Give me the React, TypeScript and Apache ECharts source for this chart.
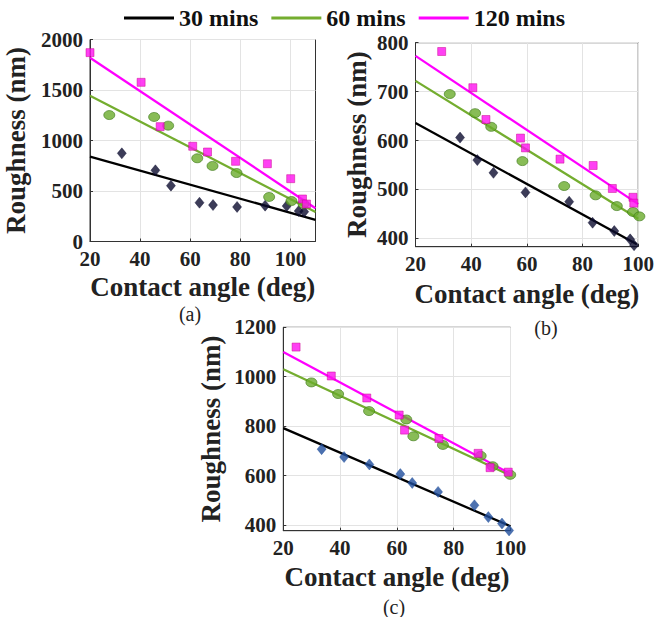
import React, { useEffect, useRef } from "react";
import * as echarts from "echarts";

// ---------- Panel (a) ----------
const a30: number[][] = [[32.7, 873], [46.1, 705], [52.3, 553], [63.7, 384], [69.1, 361], [78.7, 342], [89.9, 355], [98.5, 351], [103.3, 302], [105.5, 295]];
const a60: number[][] = [[27.7, 1252], [45.6, 1233], [51.2, 1147], [62.8, 824], [68.9, 748], [78.5, 678], [91.5, 441], [100.4, 401], [105.2, 372]];
const a120: number[][] = [[20, 1870], [40.4, 1576], [48, 1137], [61, 943], [66.9, 886], [78.1, 794], [90.8, 770], [100.1, 622], [104.8, 421], [106.4, 371]];
const a30Fit: number[][] = [[20, 840], [110, 215]];
const a60Fit: number[][] = [[20, 1444], [110, 292]];
const a120Fit: number[][] = [[20, 1820], [110, 330]];
const aXTicks = [20, 40, 60, 80, 100];
const aYTicks = [0, 500, 1000, 1500, 2000];

// ---------- Panel (b) ----------
const b30: number[][] = [[36, 606], [42.2, 560], [48, 534], [59.5, 494], [75.2, 475], [83.6, 432], [91.4, 415], [97.1, 398], [98.5, 386]];
const b60: number[][] = [[32.3, 695], [41.4, 656], [47.2, 628], [58.4, 558], [73.4, 507], [84.7, 488], [92.3, 466], [98.1, 454], [100.4, 445]];
const b120: number[][] = [[29.4, 782], [40.6, 708], [45.3, 643], [57.7, 605], [59.5, 585], [71.9, 562], [83.8, 549], [90.7, 502], [98.1, 484], [98.4, 472]];
const b30Fit: number[][] = [[20, 636], [99.5, 388]];
const b60Fit: number[][] = [[20, 722], [100, 440]];
const b120Fit: number[][] = [[20, 773], [100, 470]];
const bXTicks = [20, 40, 60, 80, 100];
const bYTicks = [400, 500, 600, 700, 800];

// ---------- Panel (c) ----------
const c30: number[][] = [[33.5, 707], [41.4, 675], [50.3, 645], [61.2, 606], [65.4, 570], [74.5, 534], [87.3, 480], [92.2, 432], [97, 406], [99.5, 378]];
const c60: number[][] = [[29.9, 977], [39.3, 930], [50.2, 861], [63.3, 827], [65.8, 759], [76.2, 724], [89.5, 680], [93.7, 638], [99.9, 603]];
const c120: number[][] = [[24.5, 1120], [36.9, 1003], [49.4, 914], [60.8, 845], [62.7, 784], [74.8, 750], [88.6, 690], [92.8, 632], [99.2, 614]];
const c30Fit: number[][] = [[20, 792], [100, 395]];
const c60Fit: number[][] = [[20, 1030], [100, 600]];
const c120Fit: number[][] = [[20, 1100], [100, 607]];
const cXTicks = [20, 40, 60, 80, 100];
const cYTicks = [400, 600, 800, 1000, 1200];

const legendNames = ["30 mins", "60 mins", "120 mins"];
const panelLabels = ["(a)", "(b)", "(c)"];
const xTitle = "Contact angle (deg)";
const yTitle = "Roughness (nm)";

const FONT = "Liberation Serif";
const C_BLACK = "#000000";
const C_GREEN = "#74ad2f";
const C_MAG = "#ff00ff";

export default function App() {
  const ref = useRef<HTMLDivElement>(null);

  useEffect(() => {
    if (!ref.current) return;
    const chart = echarts.init(ref.current, null, { renderer: "svg" });

    const grids = [
      { left: 90, top: 39.5, width: 225.5, height: 202 },
      { left: 415.5, top: 42.7, width: 226, height: 204 },
      { left: 283.3, top: 327.3, width: 227.2, height: 203.4 },
    ];
    const xRanges = [[20, 110], [20, 100], [20, 100]];
    const yRanges = [[0, 2000], [383, 800], [377, 1200]];
    const xTicks = [aXTicks, bXTicks, cXTicks];
    const yTicks = [aYTicks, bYTicks, cYTicks];
    const yNameGaps = [61, 45, 59];
    const xNameGaps = [32, 34, 33];
    const plain = (v: number) => String(v);

    const xAxes = grids.map((_, i) => ({
      type: "value",
      gridIndex: i,
      min: xRanges[i][0],
      max: xRanges[i][1],
      name: xTitle,
      nameLocation: "middle",
      nameGap: xNameGaps[i],
      nameTextStyle: { fontFamily: FONT, fontWeight: "bold", fontSize: 27, color: "#222" },
      axisLine: { show: true, lineStyle: { color: "#333", width: 1 } },
      axisTick: { show: true, inside: true, length: 3, lineStyle: { color: "#333" }, customValues: xTicks[i] },
      axisLabel: { customValues: xTicks[i], formatter: plain, fontFamily: FONT, fontWeight: "bold", fontSize: 21, color: "#222", margin: 7 },
      splitLine: { show: true, lineStyle: { color: "#e3e3e3", width: 1 } },
    }));

    const yAxes = grids.map((_, i) => ({
      type: "value",
      gridIndex: i,
      min: yRanges[i][0],
      max: yRanges[i][1],
      name: yTitle,
      nameLocation: "middle",
      nameGap: yNameGaps[i],
      nameTextStyle: { fontFamily: FONT, fontWeight: "bold", fontSize: 27, color: "#222" },
      axisLine: { show: true, lineStyle: { color: "#333", width: 1 } },
      axisTick: { show: true, inside: true, length: 3, lineStyle: { color: "#333" }, customValues: yTicks[i] },
      axisLabel: { customValues: yTicks[i], formatter: plain, fontFamily: FONT, fontWeight: "bold", fontSize: 21, color: "#222", margin: 7 },
      splitLine: { show: true, lineStyle: { color: "#e3e3e3", width: 1 } },
    }));

    const diamondColors = ["#0b0b2e", "#0b0b2e", "#1f4e9c"];
    const scatterSets = [
      [a30, a60, a120],
      [b30, b60, b120],
      [c30, c60, c120],
    ];
    const fitSets = [
      [a30Fit, a60Fit, a120Fit],
      [b30Fit, b60Fit, b120Fit],
      [c30Fit, c60Fit, c120Fit],
    ];
    const lineColors = [C_BLACK, C_GREEN, C_MAG];

    const series: any[] = [];
    for (let p = 0; p < 3; p++) {
      for (let k = 0; k < 3; k++) {
        series.push({
          type: "line",
          name: legendNames[k],
          xAxisIndex: p,
          yAxisIndex: p,
          data: fitSets[p][k],
          showSymbol: false,
          symbol: "none",
          lineStyle: { color: lineColors[k], width: 2.3 },
          itemStyle: { color: lineColors[k] },
          z: 3,
          silent: true,
        });
      }
      series.push({
        type: "scatter",
        name: legendNames[0],
        xAxisIndex: p,
        yAxisIndex: p,
        data: scatterSets[p][0],
        symbol: "diamond",
        symbolSize: [9, 11],
        clip: false,
        itemStyle: { color: diamondColors[p], borderColor: diamondColors[p], borderWidth: 0.5 },
        z: 4,
      });
      series.push({
        type: "scatter",
        name: legendNames[1],
        xAxisIndex: p,
        yAxisIndex: p,
        data: scatterSets[p][1],
        symbol: "circle",
        symbolSize: [11, 9],
        clip: false,
        itemStyle: { color: "#6aab2c", borderColor: "#3f7a1a", borderWidth: 0.8 },
        z: 4,
      });
      series.push({
        type: "scatter",
        name: legendNames[2],
        xAxisIndex: p,
        yAxisIndex: p,
        data: scatterSets[p][2],
        symbol: "rect",
        symbolSize: 8,
        clip: false,
        itemStyle: { color: "#ff10f0", borderColor: "#c8008c", borderWidth: 0.6 },
        z: 5,
      });
    }

    const labelPos = [
      [190, 314],
      [546, 328],
      [394, 607],
    ];

    chart.setOption({
      animation: false,
      backgroundColor: "#ffffff",
      grid: grids.map((g) => ({ ...g, show: true, borderColor: "#333", borderWidth: 1, backgroundColor: "transparent" })),
      xAxis: xAxes,
      yAxis: yAxes,
      legend: {
        left: 124,
        top: 6,
        padding: 0,
        itemWidth: 50,
        itemHeight: 3,
        itemGap: 13,
        selectedMode: false,
        textStyle: { fontFamily: FONT, fontWeight: "bold", fontSize: 24, color: "#111" },
        data: legendNames.map((n, k) => ({ name: n, icon: "rect", itemStyle: { color: lineColors[k] } })),
      },
      graphic: panelLabels.map((t, i) => ({
        type: "text",
        x: labelPos[i][0],
        y: labelPos[i][1],
        style: {
          text: t,
          fontFamily: FONT,
          fontSize: 20,
          fill: "#222",
          align: "center",
          verticalAlign: "middle",
        },
      })),
      series,
    });

    return () => chart.dispose();
  }, []);

  return (
    <div
      ref={ref}
      style={{ position: "fixed", left: 0, top: 0, width: 657, height: 617, background: "#fff" }}
    />
  );
}
